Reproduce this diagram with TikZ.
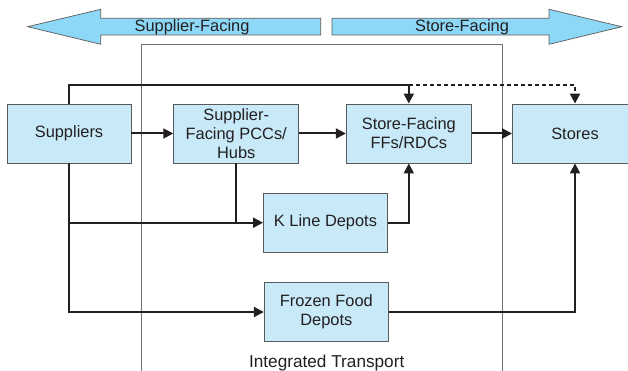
\documentclass[tikz,border=0pt]{standalone}
\usepackage{fontspec}
\setmainfont{Liberation Sans}
\usetikzlibrary{arrows.meta}
\definecolor{boxfill}{HTML}{C7E9F8}
\definecolor{arrfill}{HTML}{8ED8F7}
\definecolor{txt}{HTML}{231F20}
\definecolor{edgegray}{HTML}{5A5A5A}
\definecolor{framegray}{HTML}{707070}
\begin{document}
\begin{tikzpicture}[x=1pt,y=-1pt,
  box/.style={draw=edgegray, line width=0.9pt, fill=boxfill, minimum width=124pt, minimum height=59pt, inner sep=0pt, align=center, font=\fontsize{16.4}{19}\selectfont, text=txt},
  lbl/.style={inner sep=0pt, font=\fontsize{16.4}{19}\selectfont, text=txt},
  conn/.style={line width=2pt, draw=txt, -{Triangle[length=10pt,width=10pt]}},
  wire/.style={line width=2pt, draw=txt},
  bigarrow/.style={fill=arrfill, draw=edgegray, line width=0.7pt},
  frame/.style={draw=framegray, line width=0.9pt}]
\useasboundingbox (0,0) rectangle (628,371);
\clip (0,0) rectangle (628,371);
% top arrows
\filldraw[bigarrow] (27.7,26.7) -- (100.7,9.3) -- (100.7,18.3) -- (320.7,18.3) -- (320.7,35) -- (100.7,35) -- (100.7,44.3) -- cycle;
\filldraw[bigarrow] (621.7,26.7) -- (549,9.3) -- (549,18.3) -- (332,18.3) -- (332,35) -- (549,35) -- (549,44.3) -- cycle;
\node[lbl] (sfl) at (192,27.5) {Supplier-Facing};
\node[lbl] (stl) at (462,27.5) {Store-Facing};
% integrated transport frame
\draw[frame] (141.3,380) -- (141.3,44.3) -- (502.8,44.3) -- (502.8,380);
\node[lbl, font=\fontsize{17.2}{19}\selectfont] (it) at (326.7,363) {Integrated Transport};
% boxes
\node[box] (sup) at (69,133.5) {Suppliers};
\node[box, minimum width=125pt] (pcc) at (236.2,133.5) {Supplier-\\Facing PCCs/\\Hubs};
\node[box, minimum width=125pt] (sfr) at (408.8,133.5) {Store-Facing\\FFs/RDCs};
\node[box, minimum width=125pt] (sto) at (575,133.5) {Stores};
\node[box] (kl) at (325.5,222.7) {K Line Depots};
\node[box] (ff) at (326.3,312) {Frozen Food\\Depots};
% connectors
\coordinate (tl) at (69,85);
\coordinate (tm) at (408.8,85);
\coordinate (tr) at (575,85);
\coordinate (kj) at (69,222.7);
\coordinate (bl) at (69,312);
\draw[conn] (sup) -- (pcc);
\draw[conn] (pcc) -- (sfr);
\draw[conn] (sfr) -- (sto);
\draw[conn] (sup.north) -- (tl) -- (tm) -- (sfr.north);
\draw[conn, dash pattern=on 4pt off 3pt] (tm) -- (tr) -- (sto.north);
\draw[conn] (sup.south) -- (bl) -- (ff.west);
\draw[conn] (kj) -- (kl.west);
\draw[wire] (pcc.south) -- (pcc.south |- kl.west);
\draw[conn] (kl.east) -| (sfr.south);
\draw[conn] (ff.east) -| (sto.south);
\end{tikzpicture}
\end{document}
